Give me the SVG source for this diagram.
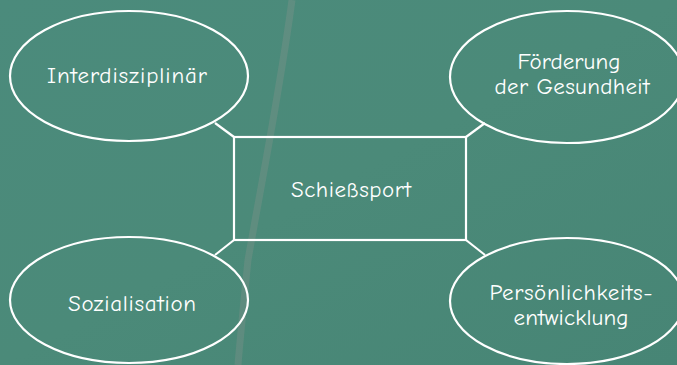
<svg xmlns="http://www.w3.org/2000/svg" width="677" height="365" viewBox="0 0 677 365">
  <defs>
    <linearGradient id="board" x1="0" y1="0" x2="1" y2="1">
      <stop offset="0" stop-color="#4b8b7c"/>
      <stop offset="0.5" stop-color="#4b8a79"/>
      <stop offset="1" stop-color="#478575"/>
    </linearGradient>
    <style>
      .shape { fill: none; stroke: #ffffff; stroke-width: 2.2; }
      .link { stroke: #ffffff; stroke-width: 2.2; fill: none; }
      .label { fill: #ffffff; font-family: "Comic Sans MS", "Comic Neue", "DejaVu Sans", sans-serif; font-size: 23px; text-anchor: middle; }
    </style>
  </defs>

  <!-- chalkboard -->
  <rect x="0" y="0" width="677" height="365" fill="url(#board)"/>
  <path d="M292 0 C280 90 262 180 248 260 C244 300 240 340 238 365" stroke="#b09a9c" stroke-width="7" opacity="0.2" fill="none"/>

  <!-- connectors -->
  <g id="connectors">
    <line class="link" x1="215" y1="123" x2="234" y2="137"/>
    <line class="link" x1="485" y1="123" x2="466" y2="137"/>
    <line class="link" x1="215" y1="255" x2="234" y2="240"/>
    <line class="link" x1="485" y1="255" x2="466" y2="240"/>
  </g>

  <g id="schiesssport">
    <rect class="shape" x="234" y="137" width="232" height="103"/>
    <text class="label" x="351" y="197" textLength="120">Schießsport</text>
  </g>

  <g id="interdisziplinaer">
    <ellipse class="shape" cx="129" cy="76" rx="119" ry="65"/>
    <text class="label" x="127" y="83" textLength="160">Interdisziplinär</text>
  </g>

  <g id="gesundheit">
    <ellipse class="shape" cx="567" cy="77" rx="117" ry="66"/>
    <text class="label" x="569" y="69" textLength="103">Förderung</text>
    <text class="label" x="572" y="94" textLength="155">der Gesundheit</text>
  </g>

  <g id="sozialisation">
    <ellipse class="shape" cx="129" cy="300" rx="119" ry="63"/>
    <text class="label" x="132" y="311" textLength="128">Sozialisation</text>
  </g>

  <g id="persoenlichkeit">
    <ellipse class="shape" cx="567" cy="301" rx="117" ry="63"/>
    <text class="label" x="571" y="300" textLength="163">Persönlichkeits-</text>
    <text class="label" x="571" y="325" textLength="115">entwicklung</text>
  </g>
</svg>
